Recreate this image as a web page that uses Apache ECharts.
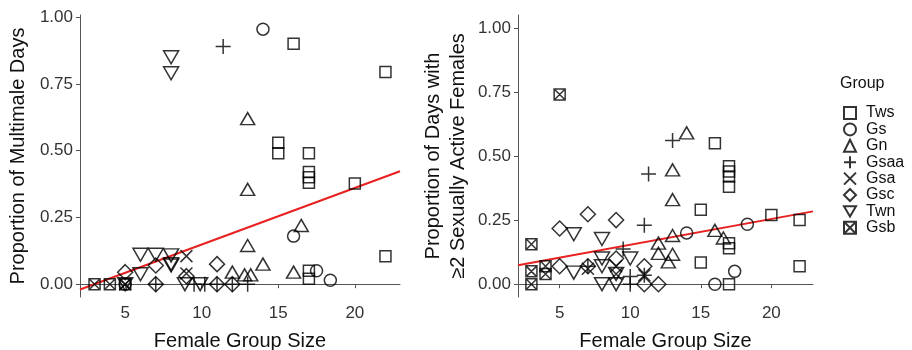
<!DOCTYPE html>
<html>
<head>
<meta charset="utf-8">
<script src="https://cdn.jsdelivr.net/npm/echarts@6/dist/echarts.min.js"></script>
<style>html,body{margin:0;padding:0;background:#fff}#c{width:912px;height:350px}</style>
</head>
<body>
<div id="c"></div>
<script>
// Group names
const groups = ['Tws','Gs','Gn','Gsaa','Gsa','Gsc','Twn','Gsb'];
// Tick labels
const xTicks = [5, 10, 15, 20];
const yTicks = [0, 0.25, 0.5, 0.75, 1];
// Left panel: proportion of multimale days  [female group size, proportion]
const multiTws  = [[16,0.90],[22,0.795],[15,0.53],[15,0.49],[17,0.49],[17,0.42],[17,0.40],[17,0.38],[20,0.377],[22,0.105],[17,0.05],[17,0.02]];
const multiGs   = [[14,0.955],[16,0.18],[17.5,0.05],[18.4,0.015],[5,0]];
const multiGn   = [[13,0.62],[13,0.355],[16.5,0.22],[13,0.145],[14,0.075],[16,0.045],[12,0.045],[12.8,0.035],[13.2,0.035]];
const multiGsaa = [[11.4,0.89],[7,0],[9.5,0],[10.2,0],[11,0],[12,0],[13,0]];
const multiGsa  = [[5,0],[9,0.105],[9,0.04]];
const multiGsc  = [[5,0.045],[7,0.07],[7,0],[9,0.03],[11,0.075],[11,0],[12,0]];
const multiTwn  = [[8,0.85],[8,0.79],[6,0.11],[7,0.11],[6,0.037],[8,0.108],[8,0.07],[8,0.075],[8.9,0],[9.9,0],[5,0]];
const multiGsb  = [[3,0],[4,0],[5,0]];
// Right panel: proportion of days with >=2 sexually active females
const sexTws  = [[16,0.55],[17,0.46],[17,0.44],[17,0.42],[17,0.38],[15,0.29],[20,0.27],[22,0.25],[17,0.16],[17,0.14],[15,0.085],[22,0.07],[17,0]];
const sexGs   = [[18.3,0.234],[14,0.2],[17.4,0.05],[16,0]];
const sexGn   = [[14,0.59],[13,0.446],[13,0.33],[16,0.21],[16.6,0.18],[13,0.19],[12,0.16],[12,0.12],[13,0.117],[12.7,0.087]];
const sexGsaa = [[13,0.56],[11.3,0.43],[11,0.23],[9.5,0.137],[10,0],[11,0.035],[7,0.07],[10,0.03]];
const sexGsa  = [[9,0.07],[9,0.04],[11,0.035],[7,0.06]];
const sexGsc  = [[5,0.217],[7,0.273],[9,0.25],[5,0.07],[7,0.07],[9,0.1],[11,0.07],[11,0],[12,0]];
const sexTwn  = [[6,0.195],[8,0.176],[6,0.045],[8,0.1],[8,0.07],[8,0],[9,0],[10,0.1],[9,0.04]];
const sexGsb  = [[5,0.74],[3,0.156],[3,0.05],[3,0],[4,0.07],[4,0.04]];
// Fitted regression lines (endpoints across the plotted x range)
const fitX = [2.05, 22.95];
const fitMulti = [-0.020, 0.423];
const fitSex = [0.074, 0.284];

const multiData = [multiTws, multiGs, multiGn, multiGsaa, multiGsa, multiGsc, multiTwn, multiGsb];
const sexData = [sexTws, sexGs, sexGn, sexGsaa, sexGsa, sexGsc, sexTwn, sexGsb];

const symbols = [
  'rect',
  'circle',
  'triangle',
  'path://M5,0 L5,10 M0,5 L10,5',
  'path://M0,0 L10,10 M10,0 L0,10',
  'diamond',
  'path://M0,0 L10,0 L5,8.66 Z',
  'path://M0,0 L10,0 L10,10 L0,10 Z M0,0 L10,10 M10,0 L0,10'
];
const sizes = [11, 12, [14,12], 15, 12, 15, [15,13], 11];

const font = 'Liberation Sans, Arial, sans-serif';
const axisGrey = '#555';

function xAxis(gi){
  return {
    type:'value', gridIndex:gi, min:2.05, max:22.95,
    name:'Female Group Size', nameLocation:'middle', nameGap:34,
    nameTextStyle:{fontSize:20, color:'#111', fontFamily:font},
    axisLine:{show:true, lineStyle:{color:axisGrey, width:1}},
    axisTick:{show:true, length:4, lineStyle:{color:axisGrey}, customValues:xTicks},
    axisLabel:{fontSize:17, color:'#333', fontFamily:font, margin:8, customValues:xTicks},
    splitLine:{show:false}
  };
}
function yAxis(gi, min, max, name, gap){
  return {
    type:'value', gridIndex:gi, min:min, max:max,
    name:name, nameLocation:'middle', nameGap:gap,
    nameTextStyle:{fontSize:20, color:'#111', fontFamily:font, lineHeight:25},
    axisLine:{show:true, lineStyle:{color:axisGrey, width:1}},
    axisTick:{show:true, length:4, lineStyle:{color:axisGrey}, customValues:yTicks},
    axisLabel:{fontSize:17, color:'#333', fontFamily:font, margin:7, customValues:yTicks,
      formatter:v=>v.toFixed(2)},
    splitLine:{show:false}
  };
}

const series = [];
[0,1].forEach(gi=>{
  series.push({
    type:'line', xAxisIndex:gi, yAxisIndex:gi, symbol:'none', silent:true,
    data: fitX.map((x,i)=>[x, (gi===0?fitMulti:fitSex)[i]]),
    lineStyle:{color:'#e8201f', width:2}, z:1
  });
});
groups.forEach((g,i)=>{
  [multiData, sexData].forEach((arr,gi)=>{
    series.push({
      name:g, type:'scatter', xAxisIndex:gi, yAxisIndex:gi,
      symbol:symbols[i], symbolSize:sizes[i],
      itemStyle:{color:'transparent', borderColor:'#000', borderWidth:1.5},
      data:arr[i], z:3
    });
  });
});

const chart = echarts.init(document.getElementById('c'));
chart.setOption({
  animation:false,
  backgroundColor:'#fff',
  title:{text:'Group', left:840, top:76, padding:0,
    textStyle:{fontSize:16, fontWeight:'normal', color:'#111', fontFamily:font}},
  legend:{
    orient:'vertical', left:843, top:105, padding:0,
    itemWidth:12, itemHeight:12, itemGap:0.4,
    data:groups,
    textStyle:{fontSize:16, color:'#111', fontFamily:font, padding:[0,0,0,5], lineHeight:14},
    selectedMode:false
  },
  grid:[
    {left:80, top:15, width:320, height:282, containLabel:false, outerBoundsMode:'none'},
    {left:518, top:15, width:295, height:282, containLabel:false, outerBoundsMode:'none'}
  ],
  xAxis:[xAxis(0), xAxis(1)],
  yAxis:[
    yAxis(0, -0.048, 1.008, 'Proportion of Multimale Days', 49),
    yAxis(1, -0.05, 1.05, 'Proportion of Days with\n\u22652 Sexually Active Females', 47)
  ],
  series:series
});
</script>
</body>
</html>
